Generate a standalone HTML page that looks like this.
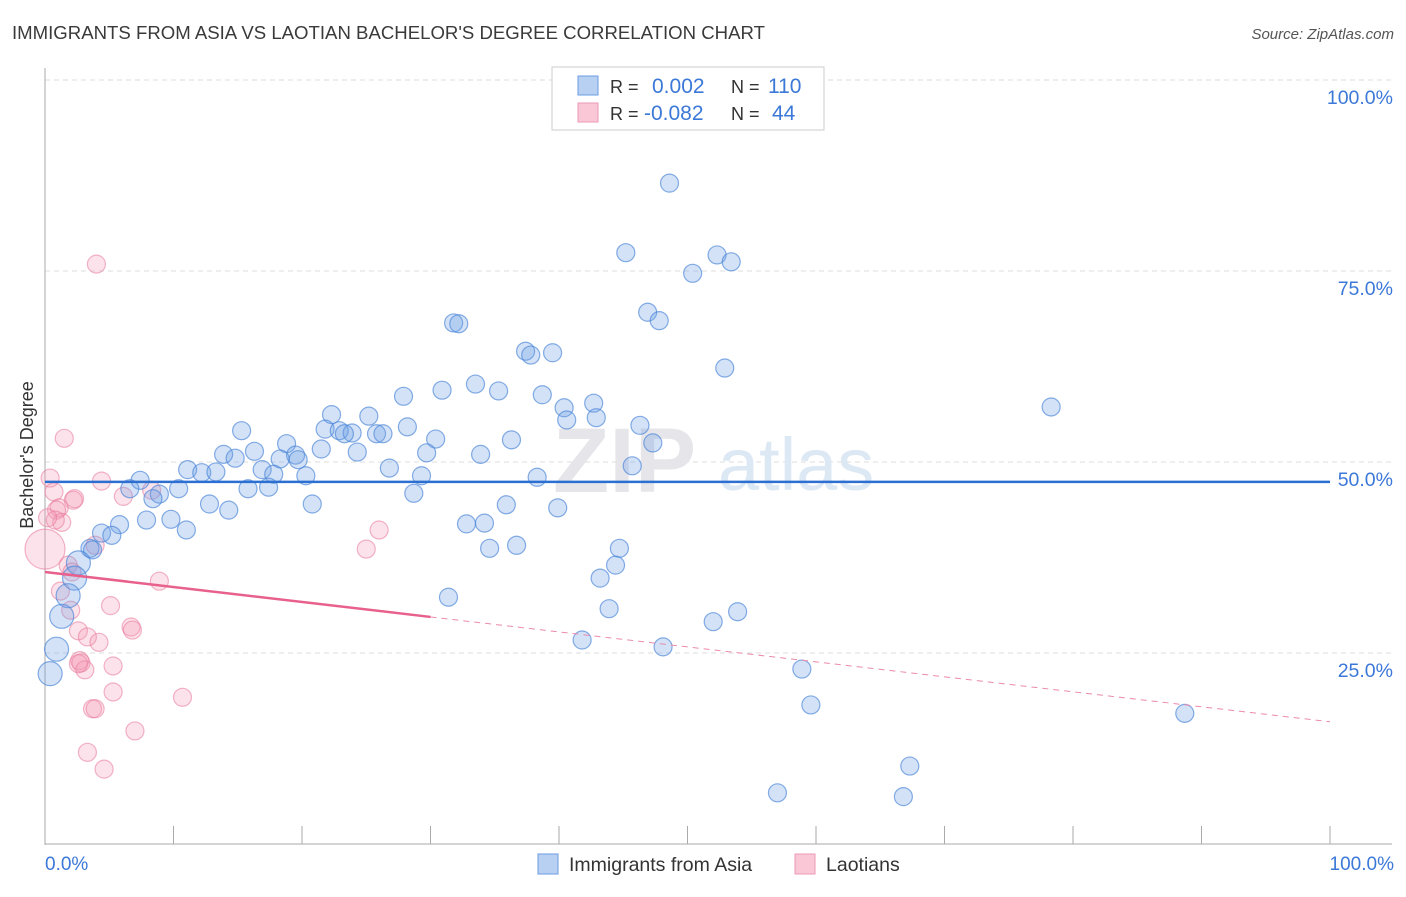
<!DOCTYPE html>
<html><head><meta charset="utf-8"><style>
body{margin:0;background:#fff;font-family:"Liberation Sans",sans-serif;}
svg text{font-family:"Liberation Sans",sans-serif;}
</style></head><body>
<svg id="chart" width="1406" height="892" viewBox="0 0 1406 892" xmlns="http://www.w3.org/2000/svg">
<text x="12" y="39" font-size="18.6" fill="#3a3a3a">IMMIGRANTS FROM ASIA VS LAOTIAN BACHELOR'S DEGREE CORRELATION CHART</text>
<text x="1394" y="39" font-size="15" fill="#555" font-style="italic" text-anchor="end">Source: ZipAtlas.com</text>
<g id="grid"></g>
<g><text x="553" y="492" font-size="92" fill="#e6e6ea" font-family="Liberation Serif,serif" font-weight="bold">ZIP</text><text x="718" y="490" font-size="74" fill="#dde8f5">atlas</text></g>
<line x1="45" y1="68" x2="45" y2="845" stroke="#aaa"/>
<line x1="45" y1="844" x2="1392" y2="844" stroke="#aaa"/>
<g id="ticks"></g>
<g id="pinkpts"></g>
<g id="bluepts"></g>
<g id="trends"></g>
<g id="ylabels"></g>
<text x="45" y="870" font-size="19" fill="#3c78d8">0.0%</text>
<text x="1394" y="870" font-size="19" fill="#3c78d8" text-anchor="end">100.0%</text>
<text transform="translate(33,455) rotate(-90)" font-size="18" fill="#333" text-anchor="middle">Bachelor's Degree</text>
<g>
<rect x="552" y="67" width="272" height="63" fill="#fff" stroke="#ccc"/>
<rect x="578" y="76" width="20" height="19" fill="#b8d0f2" stroke="#6a9be0"/>
<rect x="578" y="103" width="20" height="19" fill="#f9c7d6" stroke="#ec9ab4"/>
<text x="610" y="93" font-size="18" fill="#333">R =</text><text x="652" y="93" font-size="21" fill="#3c78d8">0.002</text>
<text x="731" y="93" font-size="18" fill="#333">N =</text><text x="768" y="93" font-size="21" fill="#3c78d8">110</text>
<text x="610" y="120" font-size="18" fill="#333">R =</text><text x="644" y="120" font-size="21" fill="#3c78d8">-0.082</text>
<text x="731" y="120" font-size="18" fill="#333">N =</text><text x="772" y="120" font-size="21" fill="#3c78d8">44</text>
</g>
<g>
<rect x="538" y="854" width="20" height="20" fill="#b8d0f2" stroke="#6a9be0"/>
<text x="569" y="871" font-size="19.5" fill="#333">Immigrants from Asia</text>
<rect x="795" y="854" width="20" height="20" fill="#f9c7d6" stroke="#ec9ab4"/>
<text x="826" y="871" font-size="19.5" fill="#333">Laotians</text>
</g>
</svg>
<script>
const yTicks=[25,50,75,100];
const yTickLabels=["25.0%","50.0%","75.0%","100.0%"];
const xTicks=[0,10,20,30,40,50,60,70,80,90,100];
const blueX=[48.6,45.2,52.3,53.4,50.4,46.9,47.8,31.8,32.2,37.4,37.8,39.5,52.9,27.9,33.5,30.9,35.3,38.7,78.3,42.7,40.4,22.3,25.2,42.9,40.6,46.3,21.8,15.3,22.9,23.9,23.3,25.8,26.3,28.2,30.4,36.3,47.3,18.8,21.5,16.3,13.9,24.3,33.9,19.5,14.8,29.7,19.7,18.3,45.7,11.1,16.9,12.2,13.3,17.8,20.3,26.8,29.3,7.4,38.3,10.4,6.6,8.9,8.4,15.8,17.4,28.7,35.9,12.8,14.3,20.8,39.9,7.9,9.8,32.8,34.2,11.0,5.8,4.4,5.2,3.5,3.7,36.7,34.6,44.7,2.6,44.4,43.2,2.3,1.8,31.4,43.9,53.9,52.0,1.3,41.8,48.1,0.9,58.9,0.4,59.6,88.7,67.3,57.0,66.8];
const blueY=[86.5,77.4,77.1,76.2,74.7,69.6,68.5,68.2,68.1,64.5,64.0,64.3,62.3,58.6,60.2,59.4,59.3,58.8,57.2,57.7,57.1,56.2,56.0,55.8,55.5,54.8,54.3,54.1,54.1,53.8,53.7,53.7,53.7,54.6,53.0,52.9,52.5,52.4,51.7,51.4,51.0,51.3,51.0,50.9,50.5,51.2,50.3,50.4,49.5,49.0,49.0,48.6,48.7,48.4,48.2,49.2,48.2,47.6,48.0,46.5,46.5,45.8,45.2,46.5,46.7,45.9,44.4,44.5,43.7,44.5,44.0,42.4,42.5,41.9,42.0,41.1,41.8,40.7,40.4,38.7,38.5,39.1,38.7,38.7,36.8,36.5,34.8,34.8,32.5,32.3,30.8,30.4,29.1,29.8,26.7,25.8,25.5,22.9,22.3,18.2,17.1,10.2,6.7,6.2];
const pinkX=[4.0,1.5,0.4,4.4,0.7,2.3,2.2,1.1,0.9,6.1,8.3,1.3,0.8,0.2,26.0,25.0,0.0,3.9,1.8,2.1,8.9,1.2,5.1,2.0,6.7,6.8,2.6,3.3,4.2,2.7,2.8,3.1,2.6,5.3,5.3,10.7,3.7,3.9,7.0,3.3,4.6];
const pinkY=[75.9,53.1,47.9,47.5,46.1,45.2,45.0,44.0,43.7,45.5,46.3,42.1,42.4,42.7,41.1,38.6,38.6,39.1,36.5,35.6,34.4,33.1,31.2,30.6,28.4,28.0,27.9,27.1,26.4,24.0,23.7,22.8,23.6,23.3,19.9,19.2,17.7,17.7,14.8,12.0,9.8];
const blueTrend=[47.4,47.4];
const pinkTrend=[35.6,16.0];
const pinkSolidEnd=30;

const NS="http://www.w3.org/2000/svg";
const X=v=>45+v*12.85;
const Y=v=>844-v*7.64;
function mk(tag,attrs,parent){const e=document.createElementNS(NS,tag);for(const k in attrs)e.setAttribute(k,attrs[k]);parent.appendChild(e);return e;}
const grid=document.getElementById('grid'),ylab=document.getElementById('ylabels'),ticks=document.getElementById('ticks');
yTicks.forEach((t,i)=>{
  const l=mk('line',{x1:45,x2:1392,y1:Y(t),y2:Y(t),stroke:'#ddd','stroke-dasharray':'5,4'},grid);
  
  
  const tx=mk('text',{x:1393,y:Y(t)+24,'font-size':19.5,fill:'#3c78d8','text-anchor':'end'},ylab);
  tx.textContent=yTickLabels[i];
  
  
});
xTicks.forEach(t=>{
  const l=mk('line',{x1:X(t),x2:X(t),y1:826,y2:844,stroke:'#aaa'},ticks);
  
  
});
const pg=document.getElementById('pinkpts');
pinkX.forEach((v,i)=>{
  const r=(v===0&&pinkY[i]>38&&pinkY[i]<39)?20:9;
  const c=mk('circle',{cx:X(v),cy:Y(pinkY[i]),r:r,fill:'rgba(244,150,180,0.28)',stroke:'rgba(232,120,155,0.55)','stroke-width':1.2},pg);
  
  
});
const bg=document.getElementById('bluepts');
blueX.forEach((v,i)=>{
  let r=9; if(v<3&&blueY[i]<38) r=12;
  const c=mk('circle',{cx:X(v),cy:Y(blueY[i]),r:r,fill:'rgba(110,160,230,0.3)',stroke:'rgba(70,130,215,0.65)','stroke-width':1.2},bg);
  
  
});
const tg=document.getElementById('trends');
const bt=mk('line',{x1:X(0),x2:X(100),y1:Y(blueTrend[0]),y2:Y(blueTrend[1]),stroke:'#2d6fd1','stroke-width':2.5},tg);


const py=x=>pinkTrend[0]+(pinkTrend[1]-pinkTrend[0])*x/100;
const ps=mk('line',{x1:X(0),x2:X(pinkSolidEnd),y1:Y(py(0)),y2:Y(py(pinkSolidEnd)),stroke:'#e8608c','stroke-width':2.5},tg);


const pd=mk('line',{x1:X(pinkSolidEnd),x2:X(100),y1:Y(py(pinkSolidEnd)),y2:Y(py(100)),stroke:'#eb8aa9','stroke-width':1,'stroke-dasharray':'6,5'},tg);


</script>
</body></html>
